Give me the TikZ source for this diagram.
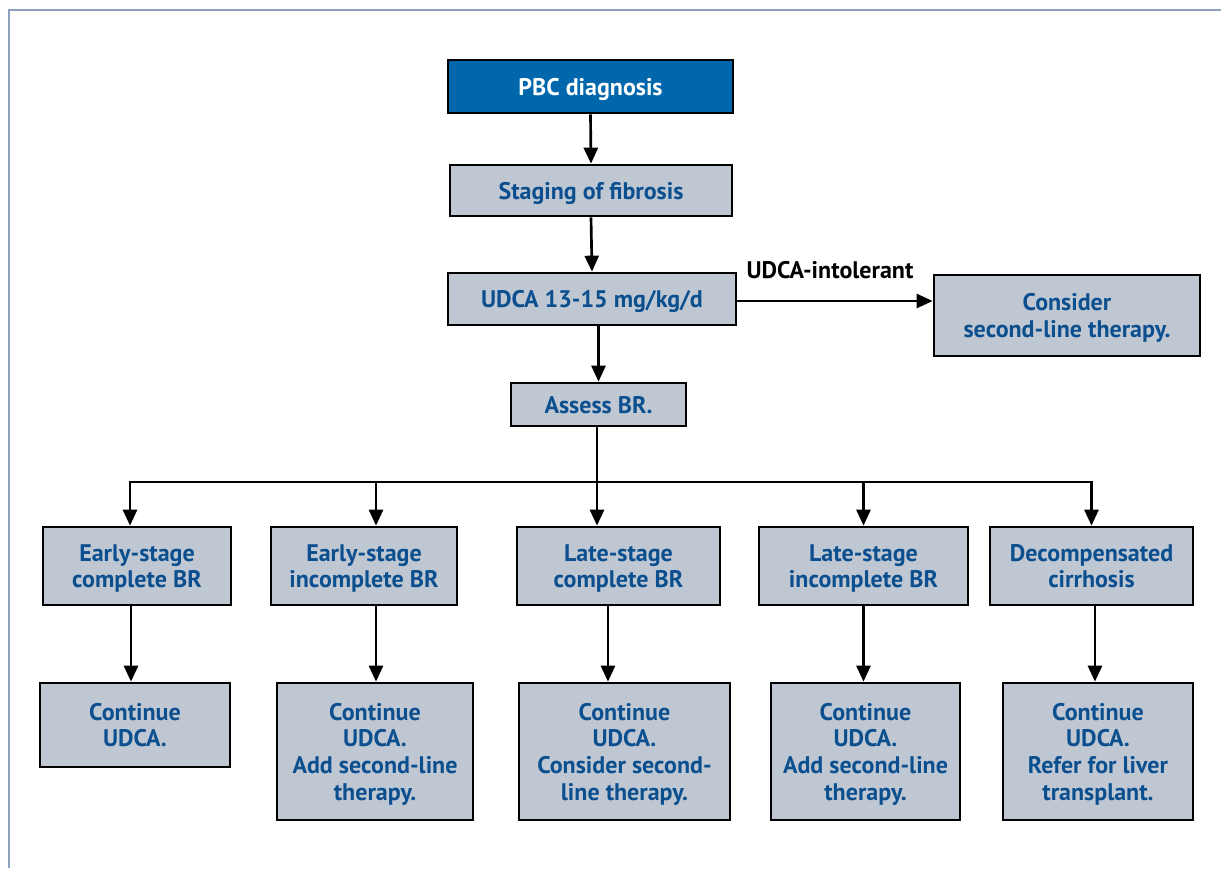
\documentclass[tikz,border=0pt]{standalone}
\usepackage{fontspec}
\setmainfont{PT Sans}
\usetikzlibrary{arrows.meta}
\definecolor{boxfill}{HTML}{BFC7D3}
\definecolor{txtblue}{HTML}{0B4F8F}
\definecolor{topblue}{HTML}{0067AC}
\definecolor{framecol}{HTML}{8DA2BE}
\begin{document}
\begin{tikzpicture}[x=0.75pt,y=-0.75pt,
  box/.style={draw=black, line width=2pt, fill=boxfill, text=txtblue,
    font=\bfseries\fontsize{18}{20}\selectfont, align=center, inner sep=0pt, text depth=0pt},
  arr/.style={line width=2pt, -{Triangle[length=12pt,width=10.5pt]}},
  conn/.style={line width=2pt}]
\useasboundingbox (0,0) rectangle (1221,868);
\draw[framecol, line width=1.5pt] (8.5,868) -- (8.5,10) -- (1221,10);

\node[box, fill=topblue, text=white, minimum width=213.75pt, minimum height=39.75pt] (pbc) at (590.5,86.5) {PBC diagnosis};
\node[box, minimum width=211.5pt, minimum height=38.25pt] (stage) at (591,190.5) {Staging of fibrosis};
\node[box, minimum width=216pt, minimum height=39pt] (udca) at (592,299) {UDCA 13-15 mg/kg/d};
\node[box, minimum width=199.5pt, minimum height=60.75pt] (cons) at (1067,315.5) {Consider\\second-line therapy.};
\node[box, minimum width=131.25pt, minimum height=32.25pt] (assess) at (598.5,404.5) {Assess BR.};

\node[box, minimum width=141pt, minimum height=58.5pt] (r1a) at (137,566) {Early-stage\\complete BR};
\node[box, minimum width=139.5pt, minimum height=58.5pt] (r1b) at (364,566) {Early-stage\\incomplete BR};
\node[box, minimum width=152.25pt, minimum height=58.5pt] (r1c) at (618.5,566) {Late-stage\\complete BR};
\node[box, minimum width=156.75pt, minimum height=58.5pt] (r1d) at (863.5,566) {Late-stage\\incomplete BR};
\node[box, minimum width=152.25pt, minimum height=58.5pt] (r1e) at (1091.5,566) {Decompensated\\cirrhosis};

\node[box, minimum width=142.5pt, minimum height=63pt] (r2a) at (135,725) {Continue\\UDCA.};
\node[box, minimum width=147pt, minimum height=102.75pt] (r2b) at (375,751.5) {Continue\\UDCA.\\Add second-line\\therapy.};
\node[box, minimum width=158.25pt, minimum height=102.75pt] (r2c) at (624.5,751.5) {Continue\\UDCA.\\Consider second-\\line therapy.};
\node[box, minimum width=141.75pt, minimum height=102.75pt] (r2d) at (865.5,751.5) {Continue\\UDCA.\\Add second-line\\therapy.};
\node[box, minimum width=142.5pt, minimum height=102.75pt] (r2e) at (1098,751.5) {Continue\\UDCA.\\Refer for liver\\transplant.};

\draw[arr] (pbc.south) -- (stage.north);
\draw[arr] (stage.south) -- (udca.north);
\draw[arr] (udca.south -| assess.north) -- (assess.north);
\draw[arr] (udca.east |- 0,301) -- (cons.west |- 0,301);
\node[font=\bfseries\fontsize{18}{20}\selectfont, text=black, inner sep=0pt] (lbl) at (830,270) {UDCA-intolerant};

\coordinate (br) at (597,482);
\draw[arr] (assess.south -| br) -- (br |- r1c.north);
\draw[arr] (br) -| ([xshift=-5.25pt]r1a.north);
\draw[arr] (br) -| ([xshift=9pt]r1b.north);
\draw[arr] (br) -| (r1d.north);
\draw[arr] (br) -| (r1e.north);

\draw[arr] ([xshift=-4.5pt]r1a.south) -- ([xshift=-4.5pt]r1a.south |- r2a.north);
\draw[arr] ([xshift=9pt]r1b.south) -- ([xshift=9pt]r1b.south |- r2b.north);
\draw[arr] ([xshift=-7.9pt]r1c.south) -- ([xshift=-7.9pt]r1c.south |- r2c.north);
\draw[arr] (r1d.south) -- (r1d.south |- r2d.north);
\draw[arr] ([xshift=2.6pt]r1e.south) -- ([xshift=2.6pt]r1e.south |- r2e.north);
\end{tikzpicture}
\end{document}
